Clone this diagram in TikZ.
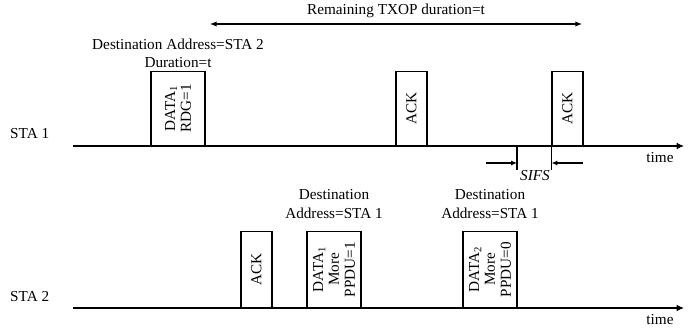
\documentclass[tikz,border=0pt]{standalone}
\usepackage{fontspec}
\setmainfont{Liberation Serif}
\usetikzlibrary{arrows.meta}

\begin{document}
\begin{tikzpicture}[
  x=0.03cm, y=-0.03cm,
  font=\fontsize{13}{13.5}\selectfont,
  every node/.style={inner sep=0pt},
  frame/.style={
    draw=black, rotate=90, align=center, line width=0.9pt,
    minimum width=2.22cm, minimum height=1.62cm, anchor=west,
  },
  ackframe/.style={frame, minimum height=0.93cm},
  lbl/.style={align=center},
  axis/.style={-{Latex[length=2.2mm, width=2mm]}, line width=0.9pt, draw=black},
  span/.style={{Latex[length=2mm, width=1.6mm]}-{Latex[length=2mm, width=1.6mm]}, line width=0.9pt, draw=black},
  gap/.style={-{Latex[length=1.8mm, width=1.5mm]}, line width=0.9pt, draw=black},
]
\useasboundingbox (0,0) rectangle (699,331);

% ===== TIME AXES =====
\coordinate (a1) at (73,146);
\coordinate (e1) at (684,146);
\coordinate (a2) at (73,308);
\coordinate (e2) at (684,308);
\draw[axis] (a1) -- (e1);
\draw[axis] (a2) -- (e2);
\node[anchor=west] (sta1) at (10,134) {STA 1};
\node[anchor=west] (sta2) at (10,297) {STA 2};
\node (time1) at (660,158) {time};
\node (time2) at (660,320) {time};

% ===== STA 1 FRAMES (y=146) =====
\node[frame] (data1) at (178,146) {DATA\textsubscript{1}\\RDG=1};
\node[ackframe] (ack1) at (411.5,146) {ACK};
\node[ackframe] (ack2) at (567.5,146) {ACK};

% ===== STA 2 FRAMES (y=308) =====
\node[ackframe, minimum width=2.28cm] (ack3) at (256.5,308) {ACK};
\node[frame, minimum width=2.28cm] (data2) at (334,308) {DATA\textsubscript{1}\\More\\PPDU=1};
\node[frame, minimum width=2.28cm] (data3) at (490,308) {DATA\textsubscript{2}\\More\\PPDU=0};

% ===== FRAME LABELS =====
\node[lbl] (dst1) at (178,53) {Destination Address=STA 2\\[2pt]Duration=t};
\node[lbl] (dst2) at (334,204) {Destination\\[2pt]Address=STA 1};
\node[lbl] (dst3) at (490,204) {Destination\\[2pt]Address=STA 1};

% ===== REMAINING TXOP =====
\coordinate (txa) at (210,24);
\coordinate (txb) at (582,24);
\draw[span] (txa) -- (txb);
\node (txop) at (396,11) {Remaining TXOP duration=t};

% ===== SIFS =====
\coordinate (s1) at (517,146);
\coordinate (s1b) at (517,170);
\coordinate (la) at (486,163);
\coordinate (ra) at (583,163);
\draw[line width=0.9pt] (s1) -- (s1b);
\draw[line width=0.9pt] (ack2.north west) -- (ack2.north west |- s1b);
\draw[gap] (la) -- (la -| s1);
\draw[gap] (ra) -- (ra -| ack2.north west);
\node[font=\fontsize{13}{13.5}\selectfont\itshape] (sifs) at (535,176) {SIFS};

\end{tikzpicture}
\end{document}
